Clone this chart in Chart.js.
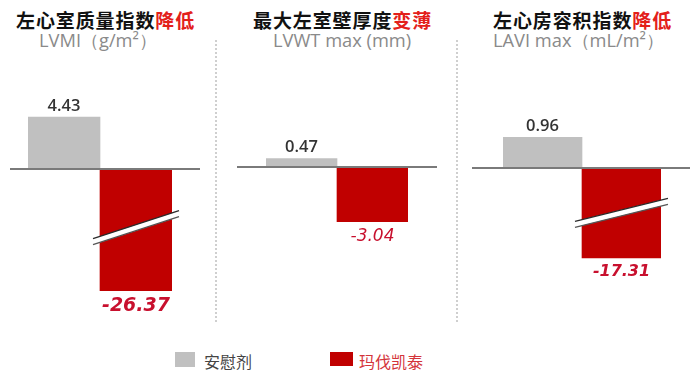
<!DOCTYPE html>
<html><head><meta charset="utf-8">
<script src="https://cdn.jsdelivr.net/npm/chart.js@4.4.1/dist/chart.umd.min.js"></script>
<style>
html,body{margin:0;padding:0;background:#fff;}
#wrap{position:relative;width:700px;height:384px;overflow:hidden;font-family:"Noto Sans CJK SC",sans-serif;}
.title{position:absolute;top:6px;font-size:19px;font-weight:700;color:#111;white-space:nowrap;letter-spacing:0.9px;}
.title span{color:#e3201b;}
.sub{position:absolute;top:27px;font-family:"Open Sans",sans-serif;font-size:18.3px;color:#8a8a8a;white-space:nowrap;}
.sep{position:absolute;top:40px;height:282px;width:0;border-left:2px dotted #cfcfcf;}
canvas{position:absolute;}
.lg{position:absolute;font-size:16px;white-space:nowrap;}
.sw{position:absolute;}
</style>
</head>
<body>
<div id="wrap"></div>
<script>
// ---------- data ----------
const panelTitles = ['左心室质量指数', '最大左室壁厚度', '左心房容积指数'];
const panelTitleAccents = ['降低', '变薄', '降低'];
const panelUnits = ['LVMI（g/m²）', 'LVWT max (mm)', 'LAVI max（mL/m²）'];
const seriesNames = ['安慰剂', '玛伐凯泰'];
const placeboValues = [4.43, 0.47, 0.96];
const mavacamtenValues = [-26.37, -3.04, -17.31];
// omitted value range on each broken axis [upper, lower]
const breakUpper = [-5, null, -1.4];
const breakLower = [-21, null, -15.9];

// ---------- layout / style ----------
const colors = { placebo: '#c0c0c0', drug: '#c00000', zero: '#7a7a7a', posLabel: '#333333', negLabel: '#c8102e', legendDrug: '#d4343a', legendPlacebo: '#444' };
const panels = [
  { left: 10, width: 190, padL: 18, padR: 28, yMin: -12.86, yMax: 9.28, titleX: 16, subX: 39, negFont: 'italic bold 19px "DejaVu Sans"', rise: 28 },
  { left: 237, width: 200, padL: 29, padR: 29, yMin: -8.5, yMax: 5.94, titleX: 253, subX: 273, negFont: 'italic 17px "DejaVu Sans"', rise: 24 },
  { left: 472, width: 218, padL: 31, padR: 29, yMin: -4.75, yMax: 3.375, titleX: 493, subX: 493, negFont: 'italic bold 16px "DejaVu Sans"', rise: 23 }
];
const canvasTop = 60, canvasHeight = 260;

// ---------- broken linear scale ----------
class BrokenLinearScale extends Chart.LinearScale {
  tf(v) {
    const hi = this.options.breakUpper, lo = this.options.breakLower;
    if (hi == null || lo == null || v == null || isNaN(v)) return v;
    if (v >= hi) return v;
    if (v <= lo) return v + (hi - lo);
    return hi;
  }
  getPixelForValue(v, index) { return super.getPixelForValue(this.tf(v), index); }
}
BrokenLinearScale.id = 'brokenLinear';
BrokenLinearScale.defaults = Chart.LinearScale.defaults;
Chart.register(BrokenLinearScale);

// ---------- plugins ----------
const zeroLine = {
  id: 'zeroLine',
  afterDatasetsDraw(chart, args, o) {
    const y = chart.scales.y.getPixelForValue(0);
    const ca = chart.chartArea, ctx = chart.ctx;
    ctx.save();
    ctx.strokeStyle = o.color; ctx.lineWidth = 2;
    ctx.beginPath(); ctx.moveTo(ca.left - o.extL, y); ctx.lineTo(ca.right + o.extR, y); ctx.stroke();
    ctx.restore();
  }
};
const breakMarks = {
  id: 'breakMarks',
  afterDatasetsDraw(chart, args, o) {
    const sc = chart.scales.y;
    const hi = sc.options.breakUpper, lo = sc.options.breakLower;
    if (hi == null) return;
    const ctx = chart.ctx;
    chart.data.datasets.forEach((ds, di) => {
      chart.getDatasetMeta(di).data.forEach((bar, j) => {
        if (ds.data[j] > lo) return;
        const cx = bar.x, cy = sc.getPixelForValue(hi);
        const L = bar.width / 2 + 7, dy = o.rise / 2, g = 3;
        ctx.save();
        ctx.fillStyle = '#ffffff';
        ctx.beginPath();
        ctx.moveTo(cx - L, cy + dy - g); ctx.lineTo(cx + L, cy - dy - g);
        ctx.lineTo(cx + L, cy - dy + g); ctx.lineTo(cx - L, cy + dy + g);
        ctx.closePath(); ctx.fill();
        ctx.lineWidth = 1.3;
        ctx.strokeStyle = '#2a2a2a';
        ctx.beginPath(); ctx.moveTo(cx - L, cy + dy - g); ctx.lineTo(cx + L, cy - dy - g); ctx.stroke();
        ctx.strokeStyle = '#555';
        ctx.beginPath(); ctx.moveTo(cx - L, cy + dy + g); ctx.lineTo(cx + L, cy - dy + g); ctx.stroke();
        ctx.restore();
      });
    });
  }
};
const valueLabels = {
  id: 'valueLabels',
  afterDatasetsDraw(chart, args, o) {
    const ctx = chart.ctx;
    chart.data.datasets.forEach((ds, di) => {
      chart.getDatasetMeta(di).data.forEach((bar, j) => {
        const v = ds.data[j];
        ctx.save();
        ctx.textAlign = 'center';
        if (v >= 0) {
          ctx.font = o.posFont; ctx.fillStyle = o.posColor; ctx.textBaseline = 'alphabetic';
          ctx.fillText(v.toFixed(2), bar.x, bar.y - 6);
        } else {
          ctx.font = o.negFont; ctx.fillStyle = o.negColor; ctx.textBaseline = 'top';
          ctx.fillText(v.toFixed(2), bar.x, bar.y + 6);
        }
        ctx.restore();
      });
    });
  }
};

// ---------- build ----------
const wrap = document.getElementById('wrap');
function el(tag, cls, css) {
  const e = document.createElement(tag);
  if (cls) e.className = cls;
  Object.assign(e.style, css || {});
  wrap.appendChild(e);
  return e;
}

panels.forEach((p, i) => {
  const t = el('div', 'title', { left: p.titleX + 'px' });
  t.textContent = panelTitles[i];
  const s = document.createElement('span'); s.textContent = panelTitleAccents[i]; t.appendChild(s);
  const u = el('div', 'sub', { left: p.subX + 'px' }); u.textContent = panelUnits[i];

  const cv = el('canvas', null, { left: p.left + 'px', top: canvasTop + 'px' });
  cv.width = p.width; cv.height = canvasHeight;
  new Chart(cv, {
    type: 'bar',
    data: {
      labels: [''],
      datasets: [
        { label: seriesNames[0], data: [placeboValues[i]], backgroundColor: colors.placebo },
        { label: seriesNames[1], data: [mavacamtenValues[i]], backgroundColor: colors.drug }
      ]
    },
    options: {
      responsive: false, animation: false,
      layout: { padding: { left: p.padL, right: p.padR, top: 0, bottom: 0 } },
      categoryPercentage: 1, barPercentage: 1,
      scales: {
        x: { display: false },
        y: { type: 'brokenLinear', display: false, min: p.yMin, max: p.yMax, breakUpper: breakUpper[i], breakLower: breakLower[i] }
      },
      plugins: {
        legend: { display: false }, tooltip: { enabled: false },
        zeroLine: { color: colors.zero, extL: p.padL, extR: p.padR },
        breakMarks: { rise: p.rise },
        valueLabels: { posFont: '600 16.5px "Open Sans"', posColor: colors.posLabel, negFont: p.negFont, negColor: colors.negLabel }
      }
    },
    plugins: [zeroLine, breakMarks, valueLabels]
  });
});

el('div', 'sep', { left: '215px' });
el('div', 'sep', { left: '456px' });

// legend
el('div', 'sw', { left: '175px', top: '352px', width: '20px', height: '15px', background: colors.placebo });
const l1 = el('div', 'lg', { left: '204px', top: '349px', color: colors.legendPlacebo }); l1.textContent = seriesNames[0];
el('div', 'sw', { left: '330px', top: '352px', width: '23px', height: '14px', background: colors.drug });
const l2 = el('div', 'lg', { left: '359px', top: '349px', color: colors.legendDrug }); l2.textContent = seriesNames[1];
</script>
</body></html>
